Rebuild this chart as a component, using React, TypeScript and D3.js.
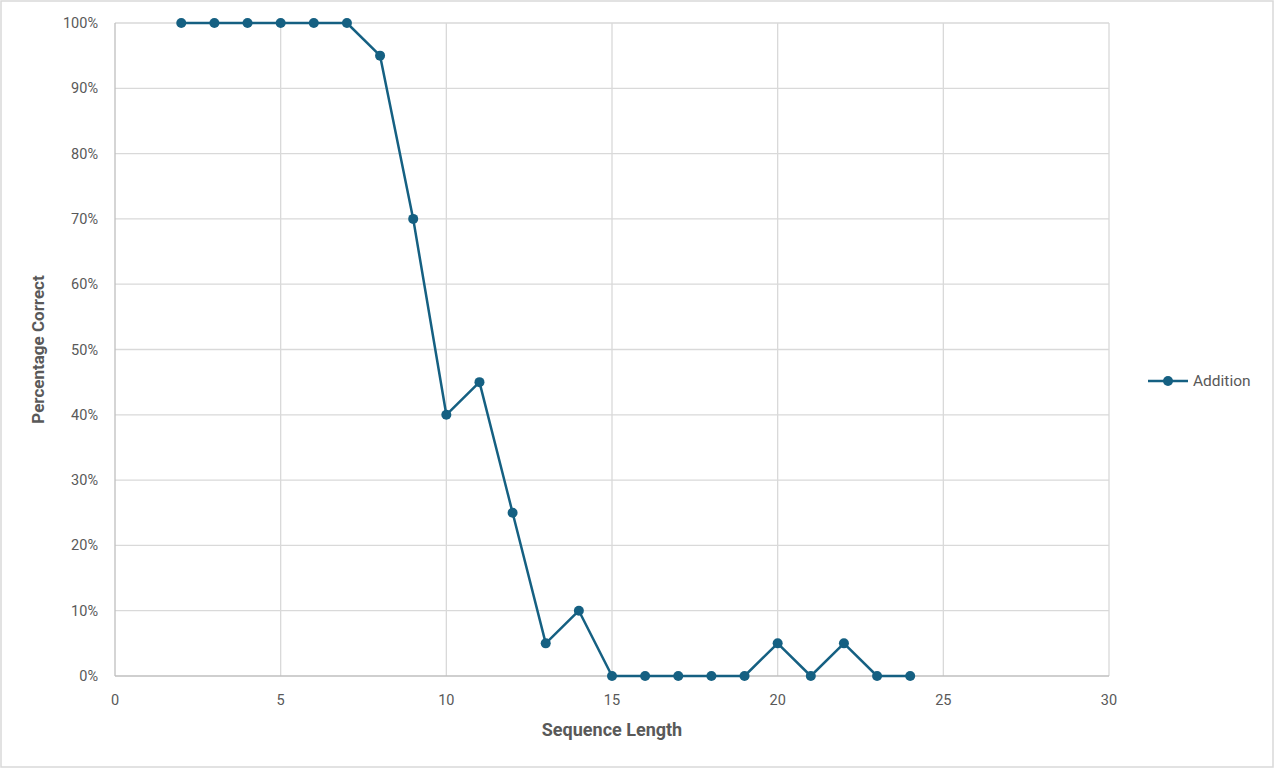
import React from "react";
import * as d3 from "d3";

const seqLengths = [2,3,4,5,6,7,8,9,10,11,12,13,14,15,16,17,18,19,20,21,22,23,24];
const additionPct = [100,100,100,100,100,100,95,70,40,45,25,5,10,0,0,0,0,0,5,0,5,0,0];
const xTicks = [0,5,10,15,20,25,30];
const yTicks = [0,10,20,30,40,50,60,70,80,90,100];
const seriesName = "Addition";

const W = 1274, H = 768;
const color = "#156082";
const font = "Roboto, 'Open Sans', sans-serif";

export default function App() {
  const x = d3.scaleLinear().domain([0, 30]).range([115, 1109]);
  const y = d3.scaleLinear().domain([0, 100]).range([676, 23]);
  const data = seqLengths.map((s, i) => ({ s, v: additionPct[i] }));
  const line = d3.line<{ s: number; v: number }>().x(d => x(d.s)).y(d => y(d.v));
  return (
    <svg width={W} height={H} style={{ position: "absolute", left: 0, top: 0, fontFamily: font }}>
      <rect x={1} y={1} width={W - 2} height={H - 2} fill="#fff" stroke="#d9d9d9" strokeWidth={1.5} />
      {yTicks.map(t => (
        <g key={"y" + t}>
          {t > 0 && <line x1={x(0)} x2={x(30)} y1={y(t)} y2={y(t)} stroke="#d9d9d9" strokeWidth={1.3} />}
          <text x={98} y={y(t)} dy="0.35em" textAnchor="end" fontSize={14.5} fill="#595959">{t}%</text>
        </g>
      ))}
      {xTicks.map(t => (
        <g key={"x" + t}>
          {t > 0 && <line x1={x(t)} x2={x(t)} y1={y(0)} y2={y(100)} stroke="#d9d9d9" strokeWidth={1.3} />}
          <text x={x(t)} y={705} textAnchor="middle" fontSize={14.5} fill="#595959">{t}</text>
        </g>
      ))}
      <line x1={x(0)} x2={x(30)} y1={y(0)} y2={y(0)} stroke="#bfbfbf" strokeWidth={1.3} />
      <line x1={x(0)} x2={x(0)} y1={y(0)} y2={y(100)} stroke="#bfbfbf" strokeWidth={1.3} />
      <path d={line(data) || ""} fill="none" stroke={color} strokeWidth={2.5} strokeLinejoin="round" />
      {data.map(d => (
        <circle key={d.s} cx={x(d.s)} cy={y(d.v)} r={5} fill={color} />
      ))}
      <text x={612} y={736} textAnchor="middle" fontSize={18} fontWeight="bold" fill="#595959">Sequence Length</text>
      <text transform={`translate(44,${y(50)}) rotate(-90)`} textAnchor="middle" fontSize={17} fontWeight="bold" fill="#595959">Percentage Correct</text>
      <line x1={1148} x2={1188} y1={381} y2={381} stroke={color} strokeWidth={2.5} />
      <circle cx={1168} cy={381} r={5} fill={color} />
      <text x={1193} y={381} dy="0.35em" fontSize={15.5} fill="#595959">{seriesName}</text>
    </svg>
  );
}
